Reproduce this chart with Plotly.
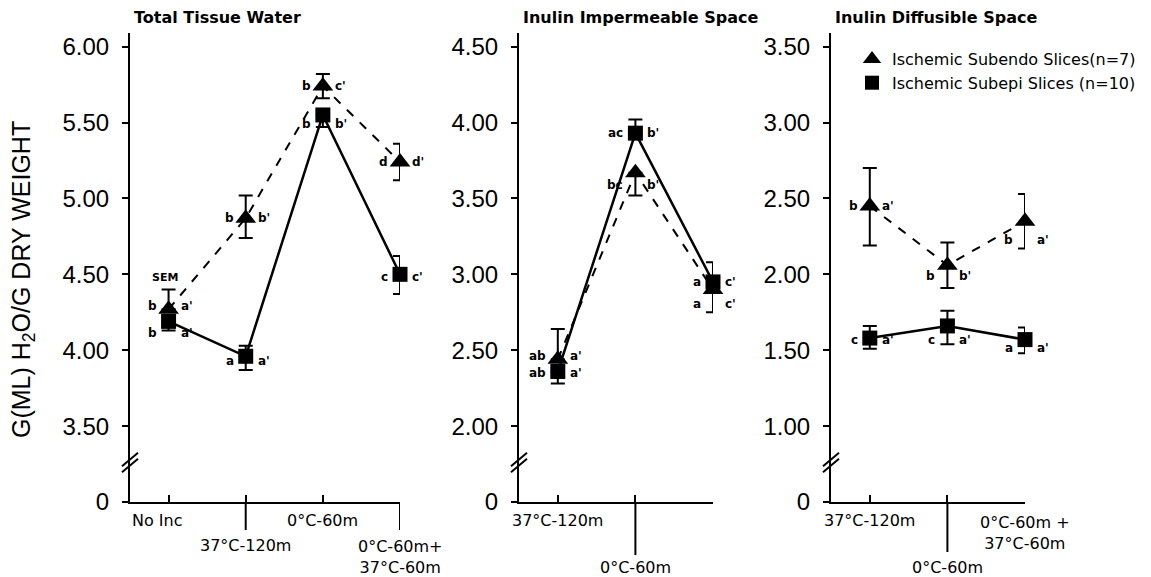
import plotly.graph_objects as go

# ---------------- data ----------------
panel_titles = ["Total Tissue Water", "Inulin Impermeable Space", "Inulin Diffusible Space"]
y_title = "G(ML) H<sub>2</sub>O/G DRY WEIGHT"

cats1 = ["No Inc", "37°C-120m", "0°C-60m", "0°C-60m+<br>37°C-60m"]
cats2 = ["37°C-120m", "0°C-60m", "0°C-60m+<br>37°C-60m"]
cats3 = ["37°C-120m", "0°C-60m", "0°C-60m +<br>37°C-60m"]

# Ischemic Subendo Slices (n=7) - triangles, dashed
endo1 = [4.27, 4.87, 5.74, 5.24]
endo1_up = [0.13, 0.15, 0.08, 0.12]
endo1_dn = [0.0, 0.13, 0.08, 0.12]
endo2 = [2.44, 3.67, 2.90]
endo2_up = [0.20, 0.0, 0.0]
endo2_dn = [0.0, 0.15, 0.15]
endo3 = [2.45, 2.06, 2.35]
endo3_up = [0.25, 0.15, 0.18]
endo3_dn = [0.26, 0.15, 0.18]

# Ischemic Subepi Slices (n=10) - squares, solid
epi1 = [4.19, 3.96, 5.55, 4.50]
epi1_up = [0.0, 0.07, 0.0, 0.12]
epi1_dn = [0.06, 0.09, 0.08, 0.13]
epi2 = [2.36, 3.93, 2.95]
epi2_up = [0.0, 0.09, 0.13]
epi2_dn = [0.08, 0.0, 0.0]
epi3 = [1.58, 1.66, 1.57]
epi3_up = [0.08, 0.10, 0.08]
epi3_dn = [0.07, 0.12, 0.09]

# significance letters (left, right)
endo1_let = [("b", "a'"), ("b", "b'"), ("b", "c'"), ("d", "d'")]
epi1_let = [("b", "a'"), ("a", "a'"), ("b", "b'"), ("c", "c'")]
endo2_let = [("ab", "a'"), ("bc", "b'"), ("a", "c'")]
epi2_let = [("ab", "a'"), ("ac", "b'"), ("a", "c'")]
endo3_let = [("b", "a'"), ("b", "b'"), ("b", "a'")]
epi3_let = [("c", "a'"), ("c", "a'"), ("a", "a'")]

y_ticks1 = [3.0, 3.5, 4.0, 4.5, 5.0, 5.5, 6.0]
y_text1 = ["0", "3.50", "4.00", "4.50", "5.00", "5.50", "6.00"]
y_ticks2 = [1.5, 2.0, 2.5, 3.0, 3.5, 4.0, 4.5]
y_text2 = ["0", "2.00", "2.50", "3.00", "3.50", "4.00", "4.50"]
y_ticks3 = [0.5, 1.0, 1.5, 2.0, 2.5, 3.0, 3.5]
y_text3 = ["0", "1.00", "1.50", "2.00", "2.50", "3.00", "3.50"]

legend_names = ["Ischemic Subendo Slices(n=7)", "Ischemic Subepi Slices (n=10)"]

# ---------------- styling / layout ----------------
OFF = 8                      # page body margin
W, H = 1151 - OFF, 577 - OFF
T = 33 - OFF
B = H - (502 - OFF)
PH = H - T - B
FONT = "Liberation Sans"
FONT2 = "DejaVu Sans"

def px_x(p):
    return (p - OFF) / W

def px_y(p):
    return ((502 - OFF) - (p - OFF)) / PH

panels = [
    dict(cats=cats1, endo=endo1, eu=endo1_up, ed=endo1_dn, epi=epi1, pu=epi1_up, pd=epi1_dn,
         elet=endo1_let, plet=epi1_let, ticks=y_ticks1, ttext=y_text1,
         dom=(130, 400), yr=(3.0, 6.09), xr=(-0.5, 3.0),
         lab_y=[520, 545, 520, 557], lab_anchor=["left", "center", "center", "center"],
         lab_x=[-0.5, 1, 2, 3], long_ticks=[1, 3], long_len=[530, 530],
         eshift=[3, 0, 0, 0], pshift=[-12, -5, -9, -3], brk=3.28),
    dict(cats=cats2, endo=endo2, eu=endo2_up, ed=endo2_dn, epi=epi2, pu=epi2_up, pd=epi2_dn,
         elet=endo2_let, plet=epi2_let, ticks=y_ticks2, ttext=y_text2,
         dom=(519, 713), yr=(1.5, 4.59), xr=(-0.5, 2.0),
         lab_y=[520, 567, 533], lab_anchor=["center", "center", "center"],
         lab_x=[0, 1, 2.05], long_ticks=[1], long_len=[555],
         eshift=[3, -12, -14], pshift=[-2, 0, 0], brk=1.78),
    dict(cats=cats3, endo=endo3, eu=endo3_up, ed=endo3_dn, epi=epi3, pu=epi3_up, pd=epi3_dn,
         elet=endo3_let, plet=epi3_let, ticks=y_ticks3, ttext=y_text3,
         dom=(831, 1025), yr=(0.5, 3.59), xr=(-0.5, 2.0),
         lab_y=[520, 567, 533], lab_anchor=["center", "center", "center"],
         lab_x=[0, 1, 2.0], long_ticks=[1], long_len=[552],
         eshift=[0, -11, -19], pshift=[-2, -14, -8], brk=0.78),
]

fig = go.Figure()
annotations = []
shapes = []

for i, p in enumerate(panels):
    n = i + 1
    xa = "x" if n == 1 else f"x{n}"
    ya = "y" if n == 1 else f"y{n}"
    xs = list(range(len(p["cats"])))
    # subepi squares, solid
    fig.add_trace(go.Scatter(
        x=xs, y=p["epi"], xaxis=xa, yaxis=ya, mode="lines+markers",
        line=dict(color="black", width=2.5),
        marker=dict(symbol="square", size=15, color="black"),
        error_y=dict(type="data", symmetric=False, array=p["pu"], arrayminus=p["pd"],
                     color="black", thickness=2, width=7),
        showlegend=False, cliponaxis=False, hoverinfo="skip"))
    # subendo triangles, dashed
    fig.add_trace(go.Scatter(
        x=xs, y=p["endo"], xaxis=xa, yaxis=ya, mode="lines+markers",
        line=dict(color="black", width=2, dash="dash"),
        marker=dict(symbol="triangle-up", size=18, color="black"),
        error_y=dict(type="data", symmetric=False, array=p["eu"], arrayminus=p["ed"],
                     color="black", thickness=2, width=7),
        showlegend=False, cliponaxis=False, hoverinfo="skip"))

    # letters
    for vals, lets, shifts in ((p["endo"], p["elet"], p["eshift"]), (p["epi"], p["plet"], p["pshift"])):
        for j, (lft, rgt) in enumerate(lets):
            annotations.append(dict(x=j, y=vals[j], xref=xa, yref=ya, text=lft, showarrow=False,
                                    xanchor="right", xshift=-10, yshift=shifts[j],
                                    font=dict(family=FONT2, size=12, color="black", weight="bold")))
            annotations.append(dict(x=j, y=vals[j], xref=xa, yref=ya, text=rgt, showarrow=False,
                                    xanchor="left", xshift=10, yshift=shifts[j],
                                    font=dict(family=FONT2, size=12, color="black", weight="bold")))

    # category labels
    for j, c in enumerate(p["cats"]):
        annotations.append(dict(x=p["lab_x"][j], y=px_y(p["lab_y"][j]), xref=xa, yref="paper",
                                text=c, showarrow=False, xanchor=p["lab_anchor"][j], yanchor="middle",
                                font=dict(family=FONT2, size=16, color="black")))
    # long ticks
    for k, lt in enumerate(p["long_ticks"]):
        shapes.append(dict(type="line", xref=xa, yref="paper", x0=lt, x1=lt,
                           y0=0, y1=px_y(p["long_len"][k]), line=dict(color="black", width=2)))
    # axis break marks
    ax_px = p["dom"][0]
    for off in (0, 6):
        shapes.append(dict(type="line", xref="paper", yref=ya,
                           x0=px_x(ax_px - 8), x1=px_x(ax_px + 8),
                           y0=p["brk"] - 0.045 - off / 152, y1=p["brk"] + 0.045 - off / 152,
                           line=dict(color="black", width=2)))
    # title
    annotations.append(dict(x=px_x(p["dom"][0] + 2), y=px_y(18), xref="paper", yref="paper",
                            text=panel_titles[i], showarrow=False, xanchor="left", yanchor="middle",
                            font=dict(family=FONT2, size=16, color="black", weight="bold")))

    fig.update_layout(**{
        ("xaxis" if n == 1 else f"xaxis{n}"): dict(
            domain=[px_x(p["dom"][0]), px_x(p["dom"][1])], range=list(p["xr"]),
            anchor=ya, showline=True, linecolor="black", linewidth=2,
            tickvals=xs, showticklabels=False, ticks="inside", ticklen=7, tickwidth=2,
            tickcolor="black", showgrid=False, zeroline=False, fixedrange=True),
        ("yaxis" if n == 1 else f"yaxis{n}"): dict(
            domain=[0, 1], range=list(p["yr"]), anchor=xa,
            showline=True, linecolor="black", linewidth=2,
            tickvals=p["ticks"], ticktext=p["ttext"], ticks="outside", ticklen=6, tickwidth=2,
            tickcolor="black", ticklabelstandoff=8,
            tickfont=dict(family=FONT, size=24, color="black"),
            showgrid=False, zeroline=False, fixedrange=True),
    })

# SEM label
annotations.append(dict(x=0, y=endo1[0] + endo1_up[0], xref="x", yref="y", text="SEM",
                        showarrow=False, yanchor="bottom", yshift=4, xshift=-4,
                        font=dict(family=FONT2, size=11, color="black", weight="bold")))

# y axis title
annotations.append(dict(x=px_x(23), y=px_y(280), xref="paper", yref="paper", text=y_title,
                        showarrow=False, textangle=-90, xanchor="center", yanchor="middle",
                        font=dict(family=FONT, size=25, color="black")))

# legend entries (marker only)
fig.add_trace(go.Scatter(x=[None], y=[None], xaxis="x3", yaxis="y3", mode="markers",
                         marker=dict(symbol="triangle-up", size=16, color="black"),
                         name=legend_names[0], showlegend=True))
fig.add_trace(go.Scatter(x=[None], y=[None], xaxis="x3", yaxis="y3", mode="markers",
                         marker=dict(symbol="square", size=14, color="black"),
                         name=legend_names[1], showlegend=True))

fig.update_layout(
    width=W, height=H,
    margin=dict(l=0, r=0, t=T, b=B),
    paper_bgcolor="white", plot_bgcolor="white",
    annotations=annotations, shapes=shapes,
    legend=dict(x=px_x(852), y=px_y(42), xanchor="left", yanchor="top",
                font=dict(family=FONT2, size=16, color="black"),
                bgcolor="rgba(0,0,0,0)", itemwidth=30, tracegroupgap=0),
    font=dict(family=FONT, color="black"),
)

fig.write_html("out.html", config={"displayModeBar": False})
